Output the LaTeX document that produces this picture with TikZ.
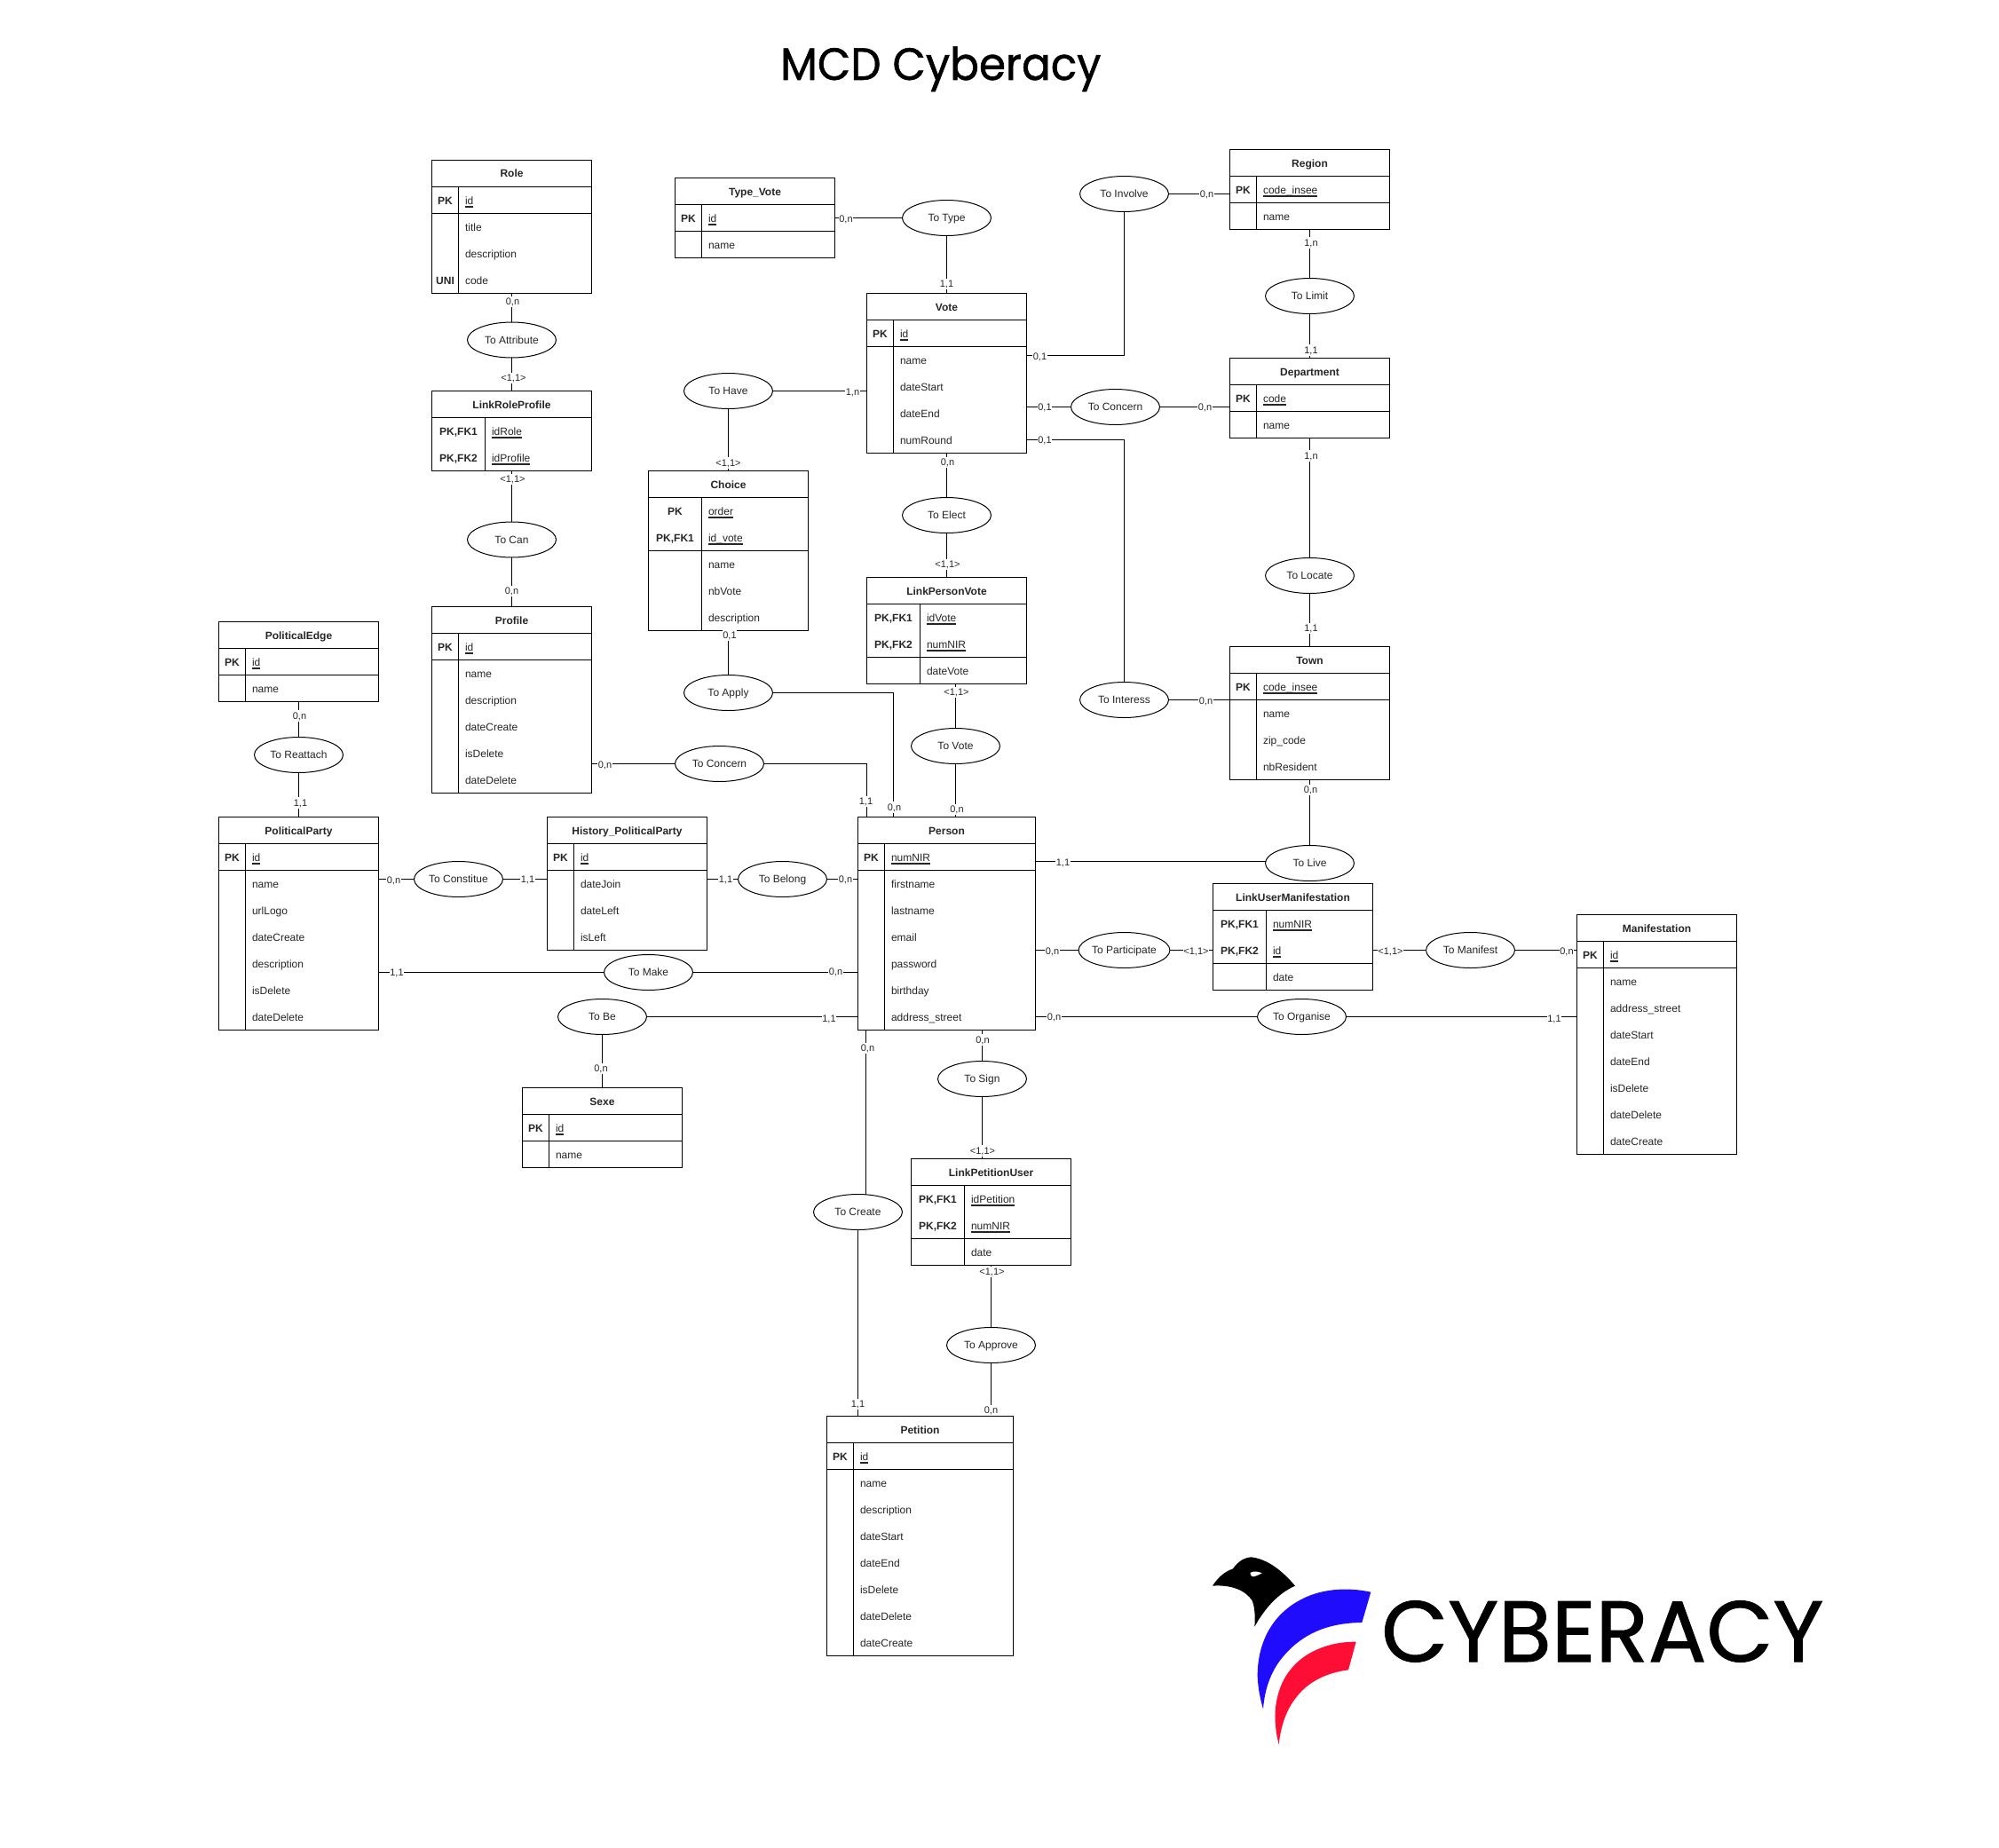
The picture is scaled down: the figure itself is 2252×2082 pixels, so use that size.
\documentclass[tikz,border=0pt]{standalone}
\usepackage{fontspec}
\setmainfont{Liberation Sans}
\newfontfamily\titlefont[FakeStretch=0.95,FakeBold=1]{Poppins}
\newfontfamily\logofont[FakeBold=1]{Poppins}
\usetikzlibrary{shapes.geometric}
\tikzset{
  entbox/.style={draw=black,line width=1pt,fill=white,anchor=north west,inner sep=0pt,outer sep=0pt},
  cell/.style={draw=black,line width=1pt},
  celltext/.style={inner sep=0pt,outer sep=0pt,text height=11pt,text depth=2pt,font=\fontsize{12}{14}\selectfont,text=black!85},
  enttitle/.style={celltext,font=\fontsize{12}{14}\selectfont\bfseries,anchor=center},
  keycell/.style={celltext,font=\fontsize{12}{14}\selectfont\bfseries,anchor=center},
  attrcell/.style={celltext,anchor=west},
  relation/.style={draw=black,line width=1pt,fill=white,ellipse,minimum width=100pt,minimum height=40pt,inner sep=0pt,outer sep=0pt,text height=10pt,text depth=2pt,font=\fontsize{12}{14}\selectfont,text=black!85},
  conn/.style={draw=black,line width=1pt},
  cardlabel/.style={fill=white,inner sep=0.6pt,outer sep=0pt,text height=9pt,text depth=2pt,font=\fontsize{11}{13}\selectfont,text=black!85},
}
\newcommand\txtu[1]{\vtop{\hbox{\smash{#1}}\kern 2.4pt\hrule height 1.1pt}}
\newcommand\txtn[1]{#1}
\newcommand\entity[9]{%
  \pgfmathsetmacro\enth{30*(#6+1)}%
  \node[entbox,minimum width=#4pt,minimum height=\enth pt] (#1) at (#2,#3) {};
  \node[enttitle] (#1-t) at ([yshift=-15pt]#1.north) {#7};
  \draw[cell] ([yshift=-30pt]#1.north west) -- ([yshift=-30pt]#1.north east);
  \draw[cell] ([xshift=#5pt,yshift=-30pt]#1.north west) -- ([xshift=#5pt]#1.south west);
  \foreach \ky/\tx/\fl [count=\i] in {#8} {
    \pgfmathsetmacro\dy{30+30*(\i-1)+15}
    \node[keycell] (#1-k\i) at ([xshift={#5/2},yshift=-\dy pt]#1.north west) {\ky};
    \node[attrcell] (#1-a\i) at ([xshift={#5+7.5},yshift=-\dy pt]#1.north west) {\csname txt\fl\endcsname{\tx}};
  }
  \foreach \sr in {#9} {
    \pgfmathsetmacro\dz{30+30*\sr}
    \draw[cell] ([yshift=-\dz pt]#1.north west) -- ([yshift=-\dz pt]#1.north east);
  }
}
\newcounter{cardn}
\newcommand\card[3]{\stepcounter{cardn}\node[cardlabel] (card\arabic{cardn}) at (#1,#2) {#3};}
\begin{document}
\begin{tikzpicture}[x=1pt,y=-1pt]
\useasboundingbox (0,0) rectangle (2252,2082);
\fill[white] (0,0) rectangle (2252,2082);

\node[font=\titlefont\fontsize{51}{60}\selectfont,text=black,inner sep=0pt,anchor=base west] (title) at (879,90) {MCD Cyberacy};

% entities
\entity{role}{486.5}{180.5}{180}{30}{4}{Role}{PK/id/u,{}/title/n,{}/description/n,UNI/code/n}{1}
\entity{typevote}{760.5}{200.5}{180}{30}{2}{Type\_Vote}{PK/id/u,{}/name/n}{1}
\entity{lrp}{486.5}{440.5}{180}{60}{3-1}{LinkRoleProfile}{{PK,FK1}/idRole/u,{PK,FK2}/idProfile/u}{2}
\entity{choice}{730.5}{530.5}{180}{60}{5}{Choice}{PK/order/u,{PK,FK1}/id\_vote/u,{}/name/n,{}/nbVote/n,{}/description/n}{2}
\entity{profile}{486.5}{683.5}{180}{30}{6}{Profile}{PK/id/u,{}/name/n,{}/description/n,{}/dateCreate/n,{}/isDelete/n,{}/dateDelete/n}{1}
\entity{pedge}{246.5}{700.5}{180}{30}{2}{PoliticalEdge}{PK/id/u,{}/name/n}{1}
\entity{pparty}{246.5}{920.5}{180}{30}{7}{PoliticalParty}{PK/id/u,{}/name/n,{}/urlLogo/n,{}/dateCreate/n,{}/description/n,{}/isDelete/n,{}/dateDelete/n}{1}
\entity{history}{616.5}{920.5}{180}{30}{4}{History\_PoliticalParty}{PK/id/u,{}/dateJoin/n,{}/dateLeft/n,{}/isLeft/n}{1}
\entity{sexe}{588.5}{1225.5}{180}{30}{2}{Sexe}{PK/id/u,{}/name/n}{1}
\entity{person}{966.5}{920.5}{200}{30}{7}{Person}{PK/numNIR/u,{}/firstname/n,{}/lastname/n,{}/email/n,{}/password/n,{}/birthday/n,{}/address\_street/n}{1}
\entity{lum}{1366.5}{995.5}{180}{60}{3}{LinkUserManifestation}{{PK,FK1}/numNIR/u,{PK,FK2}/id/u,{}/date/n}{2}
\entity{manif}{1776.5}{1030.5}{180}{30}{8}{Manifestation}{PK/id/u,{}/name/n,{}/address\_street/n,{}/dateStart/n,{}/dateEnd/n,{}/isDelete/n,{}/dateDelete/n,{}/dateCreate/n}{1}
\entity{lpu}{1026.5}{1305.5}{180}{60}{3}{LinkPetitionUser}{{PK,FK1}/idPetition/u,{PK,FK2}/numNIR/u,{}/date/n}{2}
\entity{petition}{931.5}{1595.5}{210}{30}{8}{Petition}{PK/id/u,{}/name/n,{}/description/n,{}/dateStart/n,{}/dateEnd/n,{}/isDelete/n,{}/dateDelete/n,{}/dateCreate/n}{1}
\entity{vote}{976.5}{330.5}{180}{30}{5}{Vote}{PK/id/u,{}/name/n,{}/dateStart/n,{}/dateEnd/n,{}/numRound/n}{1}
\entity{lpv}{976.5}{650.5}{180}{60}{3}{LinkPersonVote}{{PK,FK1}/idVote/u,{PK,FK2}/numNIR/u,{}/dateVote/n}{2}
\entity{region}{1385.5}{168.5}{180}{30}{2}{Region}{PK/code\_insee/u,{}/name/n}{1}
\entity{dept}{1385.5}{403.5}{180}{30}{2}{Department}{PK/code/u,{}/name/n}{1}
\entity{town}{1385.5}{728.5}{180}{30}{4}{Town}{PK/code\_insee/u,{}/name/n,{}/zip\_code/n,{}/nbResident/n}{1}

% relations
\node[relation] (attr) at (576.5,383) {To Attribute};
\node[relation] (can) at (576.5,608) {To Can};
\node[relation] (have) at (820.5,440.5) {To Have};
\node[relation] (type) at (1066.5,245.5) {To Type};
\node[relation] (involve) at (1266.5,218.5) {To Involve};
\node[relation] (limit) at (1475.5,333.5) {To Limit};
\node[relation] (vconcern) at (1256.5,458.5) {To Concern};
\node[relation] (elect) at (1066.5,580.5) {To Elect};
\node[relation] (locate) at (1475.5,648.5) {To Locate};
\node[relation] (interess) at (1266.5,788.5) {To Interess};
\node[relation] (tovote) at (1076.5,840.5) {To Vote};
\node[relation] (apply) at (820.5,780.5) {To Apply};
\node[relation] (pconcern) at (810.5,860.5) {To Concern};
\node[relation] (reattach) at (336.5,850.5) {To Reattach};
\node[relation] (constitue) at (516.5,990.5) {To Constitue};
\node[relation] (belong) at (881.5,990.5) {To Belong};
\node[relation] (make) at (730.5,1095.5) {To Make};
\node[relation] (tobe) at (678.5,1145.5) {To Be};
\node[relation] (live) at (1475.5,972.5) {To Live};
\node[relation] (participate) at (1266.5,1070.5) {To Participate};
\node[relation] (manifest) at (1656.5,1070.5) {To Manifest};
\node[relation] (organise) at (1466.5,1145.5) {To Organise};
\node[relation] (sign) at (1106.5,1215.5) {To Sign};
\node[relation] (create) at (966.5,1365.5) {To Create};
\node[relation] (approve) at (1116.5,1515.5) {To Approve};

% free bends
\coordinate (applyend) at ([xshift=40pt]person.north west);
\coordinate (pconcernend) at ([xshift=9.5pt]person.north west);
\coordinate (createtop) at ([xshift=9.3pt]create.north);
\coordinate (involveend) at ([yshift=-70pt]vote.north east);
\coordinate (interessstart) at ([yshift=-165pt]vote.north east);
\coordinate (livestart) at ([yshift=2pt]live.west);

% connectors
\draw[conn] (role.south) -- (attr.north);
\draw[conn] (attr.south) -- (lrp.north);
\draw[conn] (lrp.south) -- (can.north);
\draw[conn] (can.south) -- (profile.north);
\draw[conn] (type.west) -- (type.west -| typevote.east);
\draw[conn] (type.south) -- (vote.north);
\draw[conn] (have.east) -- (have.east -| vote.west);
\draw[conn] (have.south) -- (choice.north);
\draw[conn] (involve.east) -- (involve.east -| region.west);
\draw[conn] (involve.south) |- (involveend);
\draw[conn] (vconcern.west) -- (vconcern.west -| vote.east);
\draw[conn] (vconcern.east) -- (vconcern.east -| dept.west);
\draw[conn] (interessstart) -| (interess.north);
\draw[conn] (interess.east) -- (interess.east -| town.west);
\draw[conn] (region.south) -- (limit.north);
\draw[conn] (limit.south) -- (dept.north);
\draw[conn] (dept.south) -- (locate.north);
\draw[conn] (locate.south) -- (town.north);
\draw[conn] (town.south) -- (live.north);
\draw[conn] (vote.south) -- (elect.north);
\draw[conn] (elect.south) -- (lpv.north);
\draw[conn] (tovote.north) -- (tovote.north |- lpv.south);
\draw[conn] (tovote.south) -- (tovote.south |- person.north);
\draw[conn] (apply.north) -- (apply.north |- choice.south);
\draw[conn] (apply.east) -| (applyend);
\draw[conn] (pconcern.west) -- (pconcern.west -| profile.east);
\draw[conn] (pconcern.east) -| (pconcernend);
\draw[conn] (reattach.north) -- (pedge.south);
\draw[conn] (reattach.south) -- (pparty.north);
\draw[conn] (constitue.west) -- (constitue.west -| pparty.east);
\draw[conn] (constitue.east) -- (constitue.east -| history.west);
\draw[conn] (belong.west) -- (belong.west -| history.east);
\draw[conn] (belong.east) -- (belong.east -| person.west);
\draw[conn] (make.west) -- (make.west -| pparty.east);
\draw[conn] (make.east) -- (make.east -| person.west);
\draw[conn] (tobe.east) -- (tobe.east -| person.west);
\draw[conn] (tobe.south) -- (tobe.south |- sexe.north);
\draw[conn] (createtop) -- (createtop |- person.south);
\draw[conn] (create.south) -- (create.south |- petition.north);
\draw[conn] (sign.north) -- (sign.north |- person.south);
\draw[conn] (sign.south) -- (sign.south |- lpu.north);
\draw[conn] (approve.north) -- (approve.north |- lpu.south);
\draw[conn] (approve.south) -- (approve.south |- petition.north);
\draw[conn] (livestart) -- (livestart -| person.east);
\draw[conn] (participate.west) -- (participate.west -| person.east);
\draw[conn] (participate.east) -- (participate.east -| lum.west);
\draw[conn] (manifest.west) -- (manifest.west -| lum.east);
\draw[conn] (manifest.east) -- (manifest.east -| manif.west);
\draw[conn] (organise.west) -- (organise.west -| person.east);
\draw[conn] (organise.east) -- (organise.east -| manif.west);

% cardinalities
\card{577.5}{340}{0,n}
\card{578.5}{426}{<1,1>}
\card{577.5}{540}{<1,1>}
\card{576.5}{666}{0,n}
\card{953}{247}{0,n}
\card{1066.5}{320}{1,1}
\card{960.5}{442}{1,n}
\card{820.5}{521.5}{<1,1>}
\card{1359.5}{219}{0,n}
\card{1171.5}{402}{0,1}
\card{1177}{459}{0,1}
\card{1357.5}{459}{0,n}
\card{1177}{495.5}{0,1}
\card{1358.5}{790}{0,n}
\card{1477}{273.5}{1,n}
\card{1477}{394.5}{1,1}
\card{1477}{513.5}{1,n}
\card{1477}{708}{1,1}
\card{1476.5}{890}{0,n}
\card{1067.5}{521}{0,n}
\card{1067.5}{636}{<1,1>}
\card{1077.5}{780}{<1,1>}
\card{1078}{912}{0,n}
\card{822}{715.5}{0,1}
\card{1007.5}{909.5}{0,n}
\card{681.5}{862}{0,n}
\card{975.5}{903}{1,1}
\card{337.5}{806.5}{0,n}
\card{338.5}{904.5}{1,1}
\card{443.5}{992}{0,n}
\card{594.5}{990.5}{1,1}
\card{817.5}{991}{1,1}
\card{952.5}{991}{0,n}
\card{447}{1096}{1,1}
\card{941.5}{1094.5}{0,n}
\card{934}{1148}{1,1}
\card{677}{1204}{0,n}
\card{977.5}{1181}{0,n}
\card{966.5}{1582}{1,1}
\card{1107}{1171.5}{0,n}
\card{1107}{1296.5}{<1,1>}
\card{1117.5}{1433}{<1,1>}
\card{1116.5}{1589}{0,n}
\card{1197.5}{971.5}{1,1}
\card{1185.5}{1071.5}{0,n}
\card{1347.5}{1071.5}{<1,1>}
\card{1566.5}{1071.5}{<1,1>}
\card{1765}{1071.5}{0,n}
\card{1187.5}{1146}{0,n}
\card{1751}{1147.5}{1,1}

% logo
\begin{scope}[shift={(1340,1740)},x=0.33333pt,y=-0.33333pt]
\fill[black] (78,140) .. controls (100,105) and (125,90) .. (147,82)
  .. controls (165,55) and (190,43) .. (210,43)
  .. controls (265,50) and (315,90) .. (357,140)
  .. controls (300,165) and (255,215) .. (220,278)
  .. controls (222,250) and (222,215) .. (212,190)
  .. controls (190,155) and (140,135) .. (78,140) -- cycle;
\fill[white] (206,95) .. controls (220,88) and (235,93) .. (245,97)
  .. controls (230,105) and (218,110) .. (212,108)
  .. controls (206,105) and (205,100) .. (206,95) -- cycle;
\fill[fill={rgb,255:red,32;green,12;blue,252}] (613,161)
  .. controls (530,143) and (440,150) .. (370,190)
  .. controls (280,240) and (230,330) .. (230,445)
  .. controls (232,490) and (240,525) .. (249,556)
  .. controls (255,480) and (280,420) .. (320,375)
  .. controls (385,300) and (470,265) .. (583,264) -- cycle;
\fill[fill={rgb,255:red,254;green,14;blue,52}] (563,329)
  .. controls (470,328) and (385,365) .. (340,425)
  .. controls (295,480) and (285,560) .. (291,610)
  .. controls (293,640) and (297,655) .. (302,676)
  .. controls (310,600) and (335,540) .. (380,495)
  .. controls (420,455) and (475,432) .. (537,424) -- cycle;
\end{scope}
\node[inner sep=0pt,anchor=base west,text=black] (logotext) at (1556,1872) {\resizebox{498pt}{!}{\logofont CYBERACY}};
\end{tikzpicture}
\end{document}
